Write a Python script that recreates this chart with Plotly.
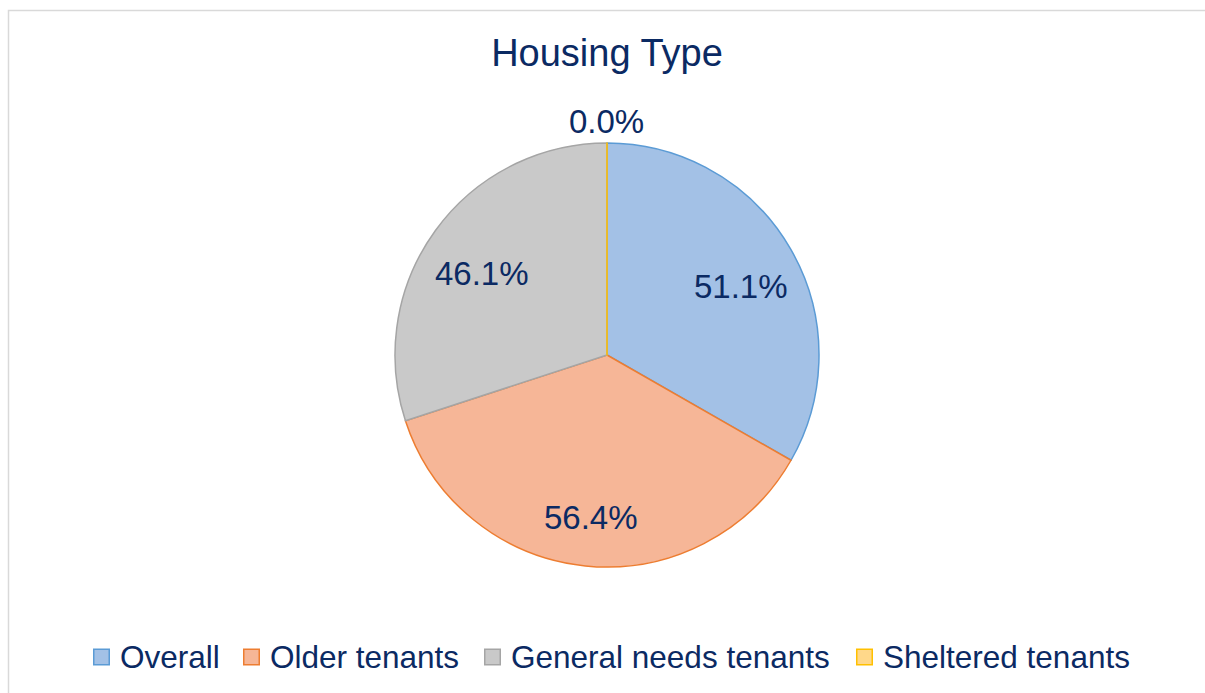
import math
import plotly.graph_objects as go

categories = ["Overall", "Older tenants", "General needs tenants", "Sheltered tenants"]
values = [51.1, 56.4, 46.1, 0.0]
label_text = [f"{v:.1f}%" for v in values]

fill_colors = ["#a3c1e6", "#f6b697", "#c9c9c9", "#ffd88a"]
line_colors = ["#5b9bd5", "#ed7d31", "#a5a5a5", "#ffc000"]
text_color = "#0b2a63"
font_family = "Liberation Sans, Arial, sans-serif"

W, H = 1205, 693
cx, cy, R = 607, 355, 212
label_r = 0.73          # radial position of inside labels (fraction of radius)
label_dy = 9            # vertical nudge of inside labels (px)
outside_gap = 21        # px above rim for outside (zero) label
legend_marker_x = [93, 243, 484, 856]   # left edge of legend swatches (px)
legend_y = 657
swatch = 17


def px(x):
    return x / W


def py(y):
    return 1 - y / H


fig = go.Figure(
    go.Pie(
        labels=categories,
        values=values,
        textinfo="none",
        sort=False,
        direction="clockwise",
        rotation=0,
        marker=dict(colors=fill_colors, line=dict(color=line_colors, width=1.5)),
        domain=dict(x=[px(cx - R), px(cx + R)], y=[py(cy + R), py(cy - R)]),
        hoverinfo="label+text",
        text=label_text,
        showlegend=False,
    )
)

# data labels placed along each slice's bisector (derived from the values)
total = sum(values)
annotations = []
cum = 0.0
for v, t in zip(values, label_text):
    mid = (cum + v / 2) / total * 2 * math.pi
    cum += v
    if v > 0:
        r = label_r * R
        dy = label_dy
    else:
        r = R + outside_gap
        dy = 0
    x = cx + r * math.sin(mid)
    y = cy - r * math.cos(mid) + dy
    annotations.append(
        dict(
            x=px(x), y=py(y), xref="paper", yref="paper",
            text=t, showarrow=False, xanchor="center", yanchor="middle",
            font=dict(family=font_family, size=33, color=text_color),
        )
    )

# legend (swatches + labels)
shapes = [
    dict(
        type="rect", xref="paper", yref="paper",
        x0=px(8.5), x1=1.02, y0=-0.02, y1=py(10.5),
        line=dict(color="#d9d9d9", width=1.5),
        fillcolor="rgba(0,0,0,0)", layer="below",
    )
]
for name, fc, lc, mx in zip(categories, fill_colors, line_colors, legend_marker_x):
    shapes.append(
        dict(
            type="rect", xref="paper", yref="paper",
            x0=px(mx + 0.75), x1=px(mx + swatch - 0.75),
            y0=py(legend_y + swatch / 2 - 0.75), y1=py(legend_y - swatch / 2 + 0.75),
            line=dict(color=lc, width=1.5), fillcolor=fc,
        )
    )
    annotations.append(
        dict(
            x=px(mx + 25), y=py(legend_y), xref="paper", yref="paper",
            text=name, showarrow=False, xanchor="left", yanchor="middle",
            font=dict(family=font_family, size=31.5, color=text_color),
        )
    )

fig.update_layout(
    width=W,
    height=H,
    margin=dict(l=0, r=0, t=0, b=0),
    paper_bgcolor="white",
    plot_bgcolor="white",
    showlegend=False,
    title=dict(
        text="Housing Type",
        x=px(cx),
        xanchor="center",
        y=py(53),
        yanchor="middle",
        font=dict(family=font_family, size=38, color=text_color),
    ),
    shapes=shapes,
    annotations=annotations,
)

fig.write_html(
    "out.html",
    config={"displayModeBar": False},
    post_script="document.body.style.margin='0';",
)
